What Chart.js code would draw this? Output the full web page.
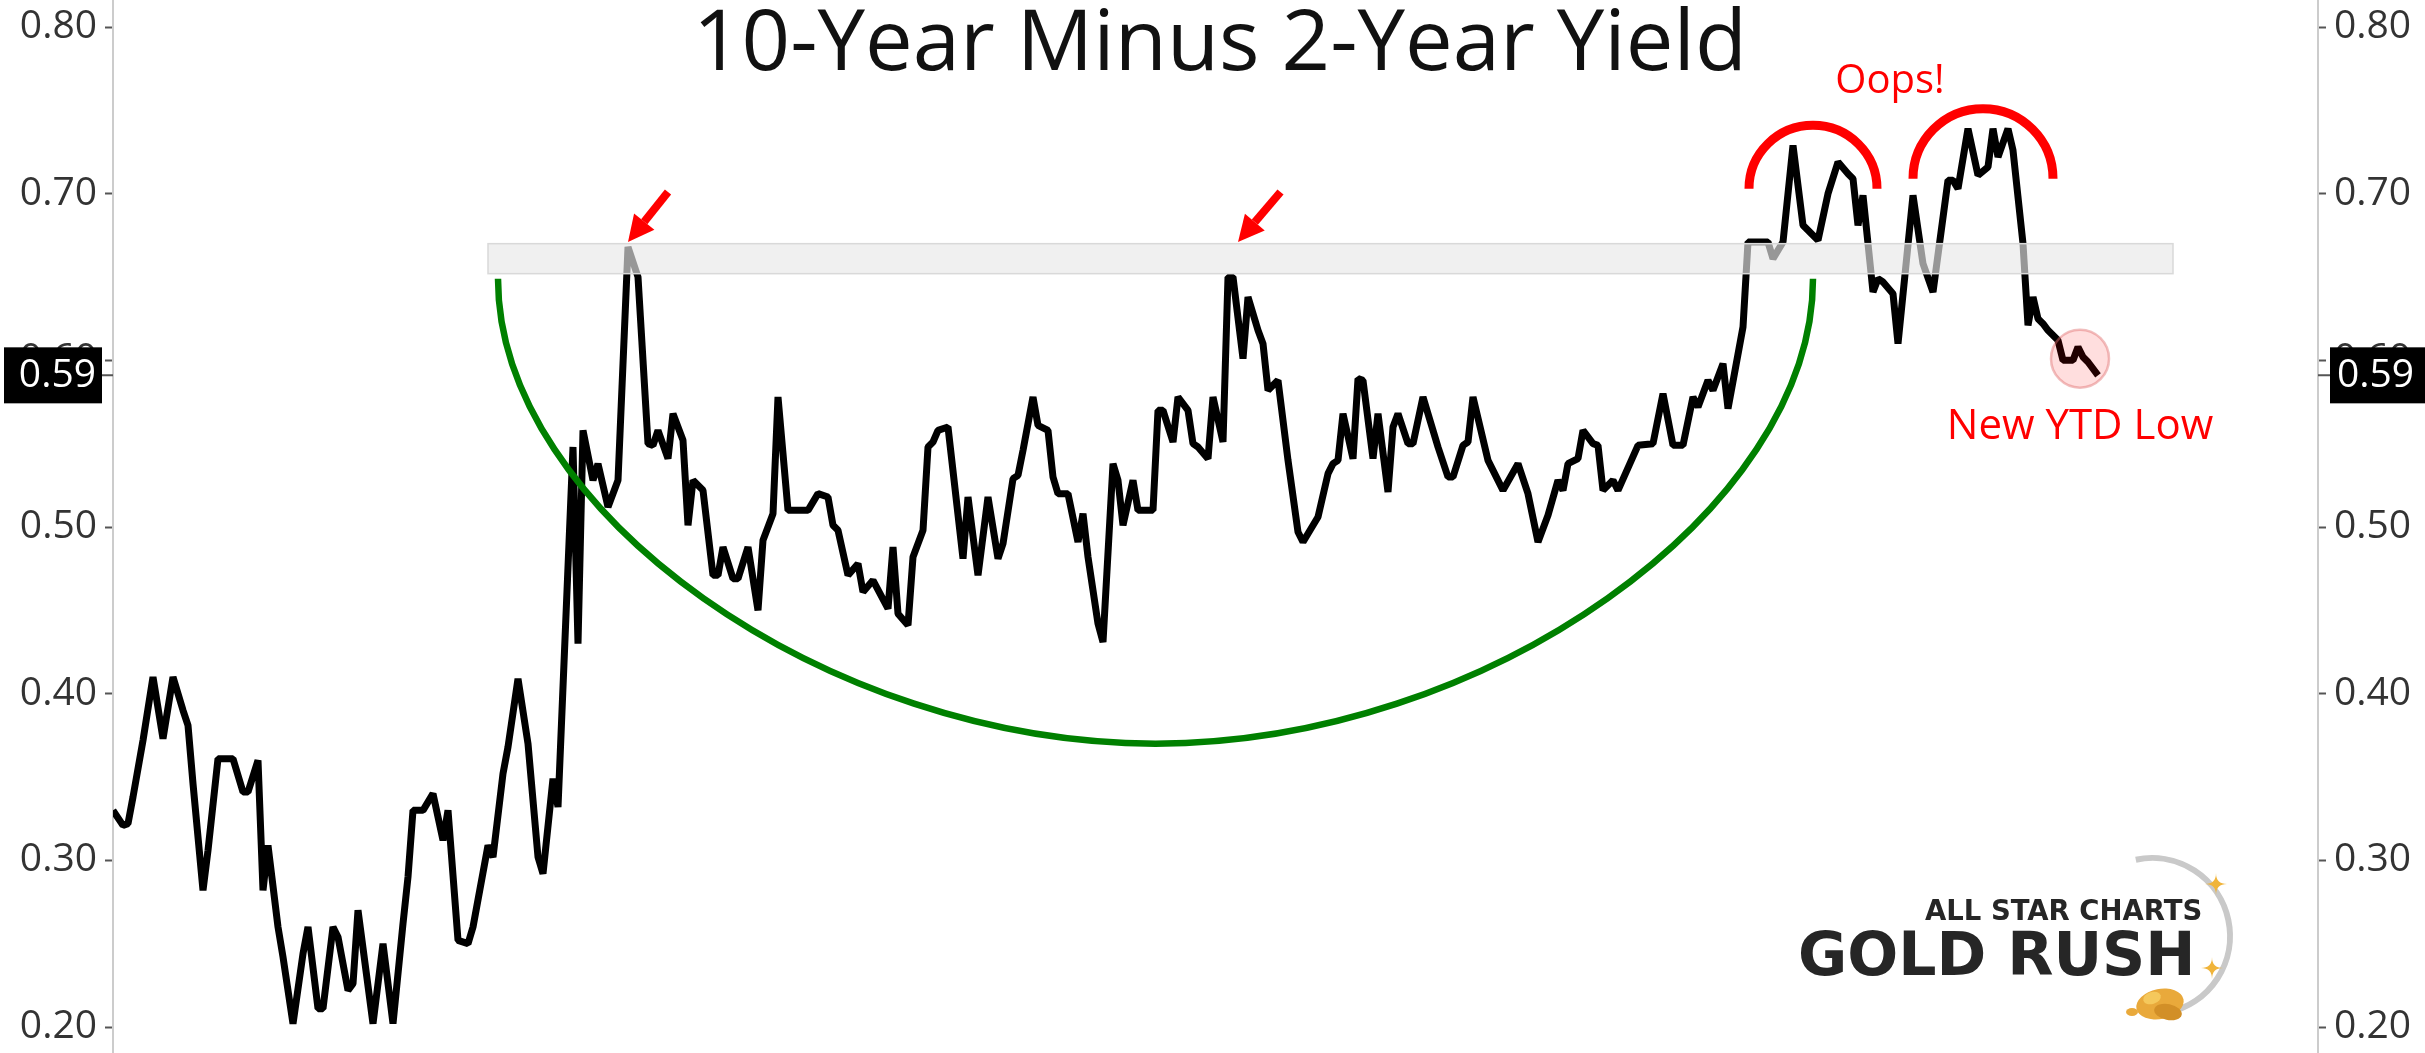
<!DOCTYPE html>
<html>
<head>
<meta charset="utf-8">
<script src="https://cdn.jsdelivr.net/npm/chart.js@4.4.1/dist/chart.umd.min.js"></script>
<style>
html, body { margin: 0; padding: 0; background: #fff; }
#wrap { width: 2425px; height: 1053px; }
</style>
</head>
<body>
<div id="wrap"><canvas id="spreadChart" width="2425" height="1053"></canvas></div>
<script>
// trading day index of each turning point, and the 10y-2y spread there
const days = [0,2,3,4,6,8,10,12,14,15,16,18,19,21,24,26,27,29,30,31,33,34,36,38,39,41,42,44,45,47,48,49,52,54,56,58,59,60,62,64,66,67,
  69,71,72,75,76,78,79,81,83,85,86,88,89,
  92,93,94,96,97,99,101,103,105,107,108,109,111,112,114,115,116,118,120,121,122,124,125,127,129,130,132,133,
  135,139,141,143,144,145,147,149,150,152,155,156,157,159,160,162,163,164,165,167,170,171,173,175,177,178,180,181,182,184,185,187,188,189,191,193,194,195,197,198,
  200,201,202,204,205,208,209,210,212,213,215,216,217,219,220,222,223,224,226,227,229,230,231,233,235,237,238,241,243,244,245,246,248,249,250,252,253,255,256,257,259,260,262,263,
  265,267,268,270,271,272,275,278,281,283,285,287,289,290,291,293,294,296,297,298,300,301,305,308,310,312,314,316,317,319,320,322,323,326,327,
  331,332,334,336,338,339,341,343,345,347,348,349,350,352,353,354,356,357,360,362,364,367,368,369,371,373,375,376,377,379,380,382,383,384,385,386,387,389,390,392,393,394,395,397];
const spread = [0.330,0.321,0.322,0.338,0.372,0.410,0.373,0.410,0.390,0.381,0.346,0.282,0.306,0.361,0.361,0.341,0.341,0.360,0.282,0.309,0.260,0.242,0.202,0.244,0.260,0.211,0.211,0.260,0.254,0.222,0.226,0.270,0.202,0.250,0.202,0.262,0.290,0.330,0.330,0.340,0.312,0.330,
  0.252,0.250,0.260,0.309,0.302,0.352,0.368,0.409,0.370,0.302,0.292,0.349,0.332,
  0.548,0.430,0.558,0.528,0.538,0.512,0.528,0.668,0.650,0.550,0.549,0.558,0.541,0.568,0.552,0.501,0.528,0.522,0.471,0.471,0.488,0.469,0.469,0.488,0.450,0.492,0.508,0.578,
  0.510,0.510,0.520,0.518,0.501,0.498,0.471,0.478,0.461,0.468,0.451,0.488,0.448,0.441,0.482,0.498,0.548,0.551,0.558,0.560,0.481,0.518,0.471,0.518,0.481,0.490,0.529,0.531,0.546,0.578,0.561,0.558,0.530,0.520,0.520,0.491,0.508,0.482,0.442,0.431,
  0.538,0.528,0.501,0.528,0.510,0.510,0.570,0.570,0.551,0.578,0.570,0.550,0.548,0.541,0.578,0.551,0.650,0.650,0.601,0.638,0.618,0.610,0.582,0.588,0.540,0.497,0.491,0.506,0.532,0.538,0.540,0.568,0.541,0.589,0.588,0.541,0.568,0.521,0.560,0.568,0.550,0.550,0.578,0.568,
  0.548,0.530,0.530,0.549,0.551,0.578,0.540,0.522,0.538,0.520,0.491,0.507,0.528,0.522,0.538,0.541,0.558,0.550,0.549,0.522,0.528,0.522,0.549,0.550,0.580,0.549,0.549,0.578,0.572,0.588,0.582,0.598,0.571,0.620,0.671,
  0.671,0.661,0.671,0.729,0.681,0.678,0.672,0.700,0.719,0.712,0.709,0.681,0.699,0.641,0.649,0.647,0.640,0.610,0.699,0.658,0.641,0.708,0.708,0.703,0.739,0.711,0.716,0.739,0.722,0.739,0.726,0.670,0.621,0.638,0.625,0.622,0.618,0.612,0.600,0.600,0.608,0.602,0.599,0.591];
const yTicks = [0.20, 0.30, 0.40, 0.50, 0.60, 0.70, 0.80];
const chartTitle = '10-Year Minus 2-Year Yield';

// annotations, in chart units (day, spread)
const band = { from: 75, to: 412, low: 0.652, high: 0.670 };
const bowl = { left: 77, right: 340, top: 0.649, bottom: 0.370 };
const arrows = [[111, 0.701, 103, 0.671], [233.5, 0.701, 225, 0.671]];
const humps = [{ x: 340, y: 0.703, rx: 12.8, ry: 0.038 }, { x: 374, y: 0.709, rx: 14, ry: 0.042 }];
const notes = [{ text: 'Oops!', x: 355.4, y: 0.767, size: 40 }, { text: 'New YTD Low', x: 393.4, y: 0.560, size: 42 }];
const lowMark = { x: 393.4, y: 0.601 };

Chart.defaults.font.family = '"Open Sans", sans-serif';

const points = days.map((d, i) => ({ x: d, y: spread[i] }));
const lastValue = spread[spread.length - 1];

function fixWidth(w) {
  return function (scale) {
    scale.width = w;
    scale.paddingTop = 0;
    scale.paddingBottom = 0;
  };
}
function setTicks(scale) {
  scale.ticks = yTicks.map(v => ({ value: v }));
}

const yAxis = {
  type: 'linear',
  min: 0.1844,
  max: 0.8162,
  afterBuildTicks: setTicks,
  ticks: { color: '#333', font: { size: 39 }, padding: 8, callback: v => v.toFixed(2) },
  grid: { drawOnChartArea: false, tickLength: 8, tickColor: '#555', tickWidth: 2 },
  border: { color: '#cccccc', width: 2 }
};

function drawArrow(ctx, x0, y0, x1, y1) {
  const ang = Math.atan2(y1 - y0, x1 - x0);
  const head = 26;
  const bx = x1 - Math.cos(ang) * head, by = y1 - Math.sin(ang) * head;
  ctx.strokeStyle = '#ff0000';
  ctx.lineWidth = 8;
  ctx.beginPath();
  ctx.moveTo(x0, y0);
  ctx.lineTo(bx, by);
  ctx.stroke();
  ctx.fillStyle = '#ff0000';
  ctx.beginPath();
  ctx.moveTo(x1, y1);
  ctx.lineTo(bx + Math.sin(ang) * 13, by - Math.cos(ang) * 13);
  ctx.lineTo(bx - Math.sin(ang) * 13, by + Math.cos(ang) * 13);
  ctx.closePath();
  ctx.fill();
}

function valueBox(ctx, x0, x1, yPix, label, textX, align) {
  ctx.fillStyle = '#000';
  ctx.fillRect(x0, yPix - 28, x1 - x0, 56);
  ctx.fillStyle = '#fff';
  ctx.font = '39px "Open Sans"';
  ctx.textAlign = align;
  ctx.textBaseline = 'middle';
  ctx.fillText(label, textX, yPix + 1);
}

function sparkle(ctx, x, y, r) {
  ctx.beginPath();
  ctx.moveTo(x, y - r);
  ctx.quadraticCurveTo(x, y, x + r, y);
  ctx.quadraticCurveTo(x, y, x, y + r);
  ctx.quadraticCurveTo(x, y, x - r, y);
  ctx.quadraticCurveTo(x, y, x, y - r);
  ctx.fill();
}

function drawLogo(ctx) {
  ctx.save();
  ctx.strokeStyle = '#c9c9c9';
  ctx.lineWidth = 6;
  ctx.beginPath();
  ctx.arc(2152, 936, 78, -1.78, 1.45);
  ctx.stroke();
  ctx.fillStyle = '#f0b43a';
  sparkle(ctx, 2216, 884, 11);
  sparkle(ctx, 2212, 968, 11);
  // nugget
  ctx.fillStyle = '#e9a93b';
  ctx.beginPath();
  ctx.ellipse(2160, 1004, 24, 15, -0.2, 0, Math.PI * 2);
  ctx.fill();
  ctx.fillStyle = '#d28f27';
  ctx.beginPath();
  ctx.ellipse(2168, 1012, 14, 8, 0.2, 0, Math.PI * 2);
  ctx.fill();
  ctx.fillStyle = '#f5c85c';
  ctx.beginPath();
  ctx.ellipse(2152, 998, 9, 6, -0.3, 0, Math.PI * 2);
  ctx.fill();
  ctx.fillStyle = '#e9a93b';
  ctx.beginPath();
  ctx.ellipse(2132, 1012, 6, 4, 0, 0, Math.PI * 2);
  ctx.fill();
  ctx.fillStyle = '#262626';
  ctx.textAlign = 'left';
  ctx.textBaseline = 'alphabetic';
  ctx.font = 'bold 27.5px "DejaVu Sans"';
  ctx.fillText('ALL STAR CHARTS', 1925, 920);
  ctx.font = 'bold 60px "DejaVu Sans"';
  ctx.fillText('GOLD RUSH', 1798, 975);
  ctx.restore();
}

const overlay = {
  id: 'overlay',
  afterDatasetsDraw(chart) {
    const { ctx, scales: { x, y } } = chart;
    ctx.save();

    // resistance band, translucent over the line
    const bx0 = x.getPixelForValue(band.from), bx1 = x.getPixelForValue(band.to);
    const by0 = y.getPixelForValue(band.high), by1 = y.getPixelForValue(band.low);
    ctx.fillStyle = 'rgba(232,232,232,0.65)';
    ctx.fillRect(bx0, by0, bx1 - bx0, by1 - by0);
    ctx.strokeStyle = '#d9d9d9';
    ctx.lineWidth = 1.5;
    ctx.strokeRect(bx0, by0, bx1 - bx0, by1 - by0);

    // rounded base
    const xl = x.getPixelForValue(bowl.left), xr = x.getPixelForValue(bowl.right);
    const yt = y.getPixelForValue(bowl.top), yb = y.getPixelForValue(bowl.bottom);
    const xm = (xl + xr) / 2, a = (xr - xl) / 2, b = yb - yt, k = 0.5;
    ctx.strokeStyle = '#008000';
    ctx.lineWidth = 6.5;
    ctx.beginPath();
    ctx.moveTo(xl, yt);
    ctx.bezierCurveTo(xl, yt + k * b, xm - k * a, yb, xm, yb);
    ctx.bezierCurveTo(xm + k * a, yb, xr, yt + k * b, xr, yt);
    ctx.stroke();

    arrows.forEach(([d0, v0, d1, v1]) => {
      drawArrow(ctx, x.getPixelForValue(d0), y.getPixelForValue(v0), x.getPixelForValue(d1), y.getPixelForValue(v1));
    });

    ctx.strokeStyle = '#ff0000';
    ctx.lineWidth = 9;
    humps.forEach(h => {
      const cx = x.getPixelForValue(h.x), cy = y.getPixelForValue(h.y);
      const rx = x.getPixelForValue(h.x + h.rx) - cx, ry = cy - y.getPixelForValue(h.y + h.ry);
      ctx.beginPath();
      ctx.ellipse(cx, cy, rx, ry, 0, Math.PI, Math.PI * 2);
      ctx.stroke();
    });

    ctx.fillStyle = 'rgba(255,0,0,0.13)';
    ctx.strokeStyle = 'rgba(225,110,110,0.45)';
    ctx.lineWidth = 2.5;
    ctx.beginPath();
    ctx.arc(x.getPixelForValue(lowMark.x), y.getPixelForValue(lowMark.y), 29, 0, Math.PI * 2);
    ctx.fill();
    ctx.stroke();

    ctx.fillStyle = '#ff0000';
    ctx.textAlign = 'center';
    ctx.textBaseline = 'middle';
    notes.forEach(n => {
      ctx.font = n.size + 'px "Open Sans"';
      ctx.fillText(n.text, x.getPixelForValue(n.x), y.getPixelForValue(n.y));
    });
    ctx.restore();
  },
  afterDraw(chart) {
    const { ctx, scales: { y } } = chart;
    ctx.save();
    const yp = y.getPixelForValue(lastValue);
    ctx.strokeStyle = '#555';
    ctx.lineWidth = 2;
    ctx.beginPath();
    ctx.moveTo(100, yp); ctx.lineTo(113, yp);
    ctx.moveTo(2318, yp); ctx.lineTo(2332, yp);
    ctx.stroke();
    valueBox(ctx, 4, 102, yp, lastValue.toFixed(2), 96, 'right');
    valueBox(ctx, 2330, 2425, yp, lastValue.toFixed(2), 2337, 'left');

    ctx.fillStyle = '#111';
    ctx.font = '85px "Open Sans"';
    ctx.textAlign = 'center';
    ctx.textBaseline = 'alphabetic';
    ctx.fillText(chartTitle, 1220, 70);

    drawLogo(ctx);
    ctx.restore();
  }
};

new Chart(document.getElementById('spreadChart'), {
  type: 'line',
  data: {
    datasets: [{
      data: points,
      borderColor: '#000',
      borderWidth: 7,
      borderJoinStyle: 'bevel',
      pointRadius: 0,
      tension: 0,
      yAxisID: 'y'
    }]
  },
  options: {
    responsive: false,
    animation: false,
    layout: { padding: 0 },
    plugins: { legend: { display: false }, tooltip: { enabled: false } },
    scales: {
      x: { type: 'linear', min: 0, max: 441, display: false },
      y: Object.assign({}, yAxis, { position: 'left', afterFit: fixWidth(113) }),
      y2: Object.assign({}, yAxis, { position: 'right', afterFit: fixWidth(107) })
    }
  },
  plugins: [overlay]
});
</script>
</body>
</html>
